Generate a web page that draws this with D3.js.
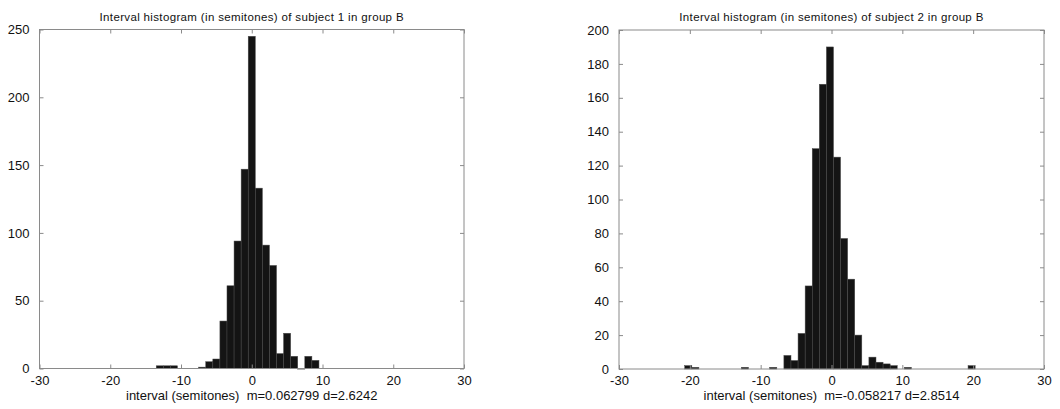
<!DOCTYPE html>
<html>
<head>
<meta charset="utf-8">
<script src="https://cdn.jsdelivr.net/npm/d3@7"></script>
<style>
  html, body { margin: 0; padding: 0; background: #fff; }
  svg { display: block; }
  text { font-family: "Liberation Sans", Arial, sans-serif; fill: #111; white-space: pre; }
</style>
</head>
<body>
<svg id="chart" width="1060" height="409"></svg>
<script>
// ---- Data ----
const xTicks = [-30, -20, -10, 0, 10, 20, 30];

// Subject 1
const s1Title = "Interval histogram (in semitones) of subject 1 in group B";
const s1XLabel = "interval (semitones)  m=0.062799 d=2.6242";
const s1Centers = [-13, -12, -11, -7, -6, -5, -4, -3, -2, -1, 0, 1, 2, 3, 4, 5, 6, 7, 8, 9];
const s1Counts  = [  2,   2,   2,  1,  5,  7, 35, 61, 94, 147, 245, 133, 91, 76, 11, 26, 9, 0, 9, 6];
const s1YTicks = [0, 50, 100, 150, 200, 250];
const s1YMax = 250;

// Subject 2
const s2Title = "Interval histogram (in semitones) of subject 2 in group B";
const s2XLabel = "interval (semitones)  m=-0.058217 d=2.8514";
const s2Centers = [-20.22, -19.22, -12.22, -8.22, -6.22, -5.22, -4.22, -3.22, -2.22, -1.22, -0.22, 0.78, 1.78, 2.78, 3.78, 4.78, 5.78, 6.78, 7.78, 8.78, 10.78, 19.78];
const s2Counts  = [     2,      1,      1,     1,     8,     5,    21,    49,   130,   168,   190,  125,   77,   53,   20,    2,    7,    4,    3,    2,     1,     2];
const s2YTicks = [0, 20, 40, 60, 80, 100, 120, 140, 160, 180, 200];
const s2YMax = 200;

const binWidth = 1;

// ---- Drawing ----
const svg = d3.select("#chart");
const fmt = d => String(d);  // plain hyphen-minus like the reference

function drawHist(g, o) {
  const x = d3.scaleLinear().domain([-30, 30]).range([o.left, o.right]);
  const y = d3.scaleLinear().domain([0, o.yMax]).range([o.bottom, o.top]);
  const tickLen = 4;

  // bars
  const data = o.centers.map((c, i) => ({ c, v: o.counts[i] }));
  g.append("g").selectAll("rect").data(data).join("rect")
    .attr("x", d => x(d.c - binWidth / 2))
    .attr("width", d => x(d.c + binWidth / 2) - x(d.c - binWidth / 2))
    .attr("y", d => y(d.v))
    .attr("height", d => Math.max(0.6, y(0) - y(d.v)))
    .attr("fill", "#141414")
    .attr("stroke", "#4a4a4a")
    .attr("stroke-width", 0.5);

  // box
  g.append("rect")
    .attr("x", o.left).attr("y", o.top)
    .attr("width", o.right - o.left).attr("height", o.bottom - o.top)
    .attr("fill", "none").attr("stroke", "#8a8a8a").attr("stroke-width", 1);

  const xb = d3.axisBottom(x).tickValues(xTicks).tickSize(-tickLen).tickPadding(9).tickFormat(fmt);
  const gx = g.append("g").attr("transform", `translate(0,${o.bottom})`).call(xb);
  const xt = d3.axisTop(x).tickValues(xTicks).tickSize(-tickLen).tickFormat("");
  const gxt = g.append("g").attr("transform", `translate(0,${o.top})`).call(xt);
  const yl = d3.axisLeft(y).tickValues(o.yTicks).tickSize(-tickLen).tickPadding(10).tickFormat(fmt);
  const gy = g.append("g").attr("transform", `translate(${o.left},0)`).call(yl);
  const yr = d3.axisRight(y).tickValues(o.yTicks).tickSize(-tickLen).tickFormat("");
  const gyr = g.append("g").attr("transform", `translate(${o.right},0)`).call(yr);

  [gx, gxt, gy, gyr].forEach(a => {
    a.select(".domain").remove();
    a.selectAll(".tick line").attr("stroke", "#8a8a8a");
    a.selectAll("text").attr("font-size", 13).attr("fill", "#111")
      .attr("font-family", "'Liberation Sans', Arial, sans-serif");
  });
  gx.selectAll(".tick text").attr("dy", "0.71em").attr("y", 7);

  // title
  g.append("text")
    .attr("x", (o.left + o.right) / 2).attr("y", 21)
    .attr("text-anchor", "middle").attr("font-size", 11.5)
    .attr("letter-spacing", 0.35)
    .text(o.title);

  // x label
  g.append("text")
    .attr("x", (o.left + o.right) / 2).attr("y", 400)
    .attr("text-anchor", "middle").attr("font-size", 13)
    .attr("xml:space", "preserve")
    .text(o.xLabel);
}

drawHist(svg.append("g"), {
  left: 39.5, right: 464, top: 29.5, bottom: 368.5,
  centers: s1Centers, counts: s1Counts, yMax: s1YMax, yTicks: s1YTicks,
  title: s1Title, xLabel: s1XLabel
});

drawHist(svg.append("g"), {
  left: 619, right: 1044, top: 30, bottom: 369,
  centers: s2Centers, counts: s2Counts, yMax: s2YMax, yTicks: s2YTicks,
  title: s2Title, xLabel: s2XLabel
});
</script>
</body>
</html>
